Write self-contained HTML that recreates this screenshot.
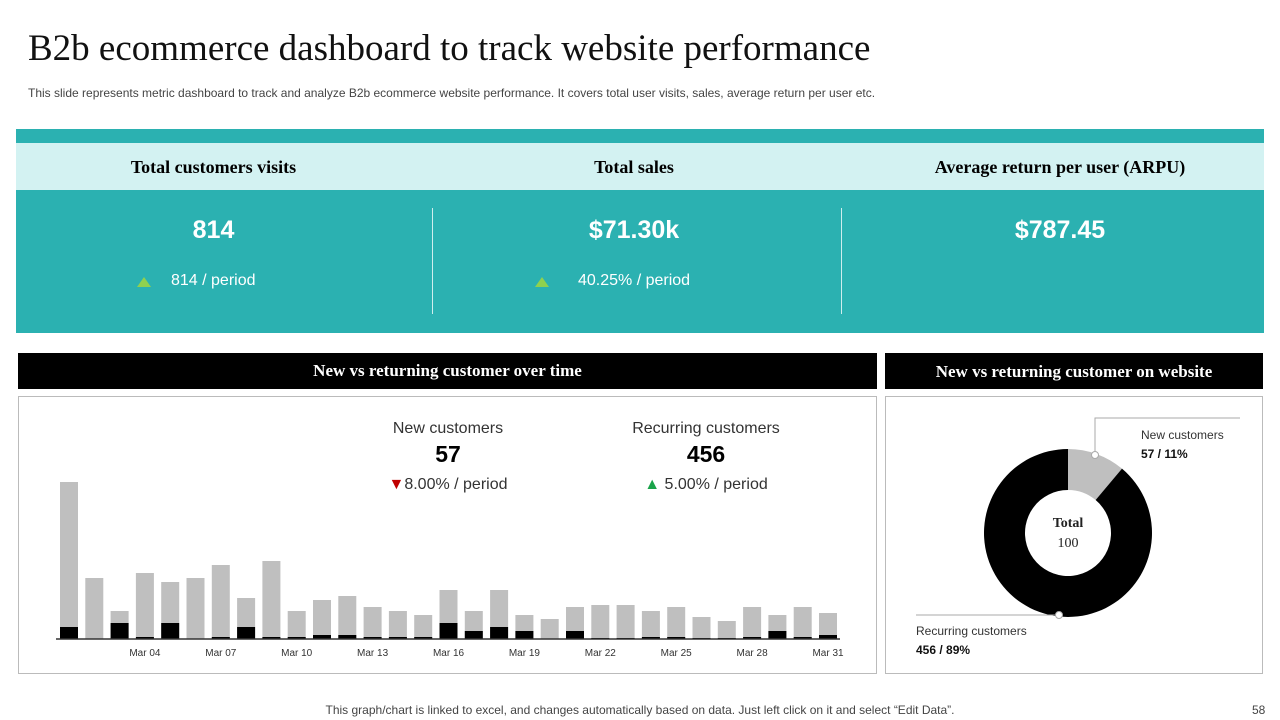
<!DOCTYPE html>
<html><head><meta charset="utf-8">
<style>
body{margin:0;width:1280px;height:720px;background:#fff;font-family:"Liberation Sans",sans-serif;position:relative;overflow:hidden}
.a{position:absolute}
.serif{font-family:"Liberation Serif",serif}
</style></head><body>
<div class="a serif" style="left:28px;top:27px;font-size:37px;color:#111">B2b ecommerce dashboard to track website performance</div>
<div class="a" style="left:28px;top:86px;font-size:12px;color:#444">This slide represents metric dashboard to track and analyze B2b ecommerce website performance. It covers total user visits, sales, average return per user etc.</div>

<div class="a" style="left:16px;top:129px;width:1248px;height:14px;background:#2bb1b1"></div>
<div class="a" style="left:16px;top:143px;width:1248px;height:47px;background:#d3f2f2"></div>
<div class="a" style="left:16px;top:190px;width:1248px;height:143px;background:#2bb1b1"></div>
<div class="a serif" style="left:16px;top:157px;width:395px;text-align:center;font-weight:bold;font-size:18px">Total customers visits</div>
<div class="a serif" style="left:434px;top:157px;width:400px;text-align:center;font-weight:bold;font-size:18px">Total sales</div>
<div class="a serif" style="left:860px;top:157px;width:400px;text-align:center;font-weight:bold;font-size:18px">Average return per user (ARPU)</div>
<div class="a" style="left:432px;top:208px;width:1px;height:106px;background:#d0eeee"></div>
<div class="a" style="left:841px;top:208px;width:1px;height:106px;background:#d0eeee"></div>
<div class="a" style="left:16px;top:216px;width:395px;text-align:center;font-weight:bold;font-size:25px;color:#fff">814</div>
<div class="a" style="left:434px;top:216px;width:400px;text-align:center;font-weight:bold;font-size:25px;color:#fff">$71.30k</div>
<div class="a" style="left:860px;top:216px;width:400px;text-align:center;font-weight:bold;font-size:25px;color:#fff">$787.45</div>
<svg class="a" style="left:136px;top:276px" width="16" height="12"><polygon points="8,1 15,11 1,11" fill="#8fd14f"/></svg>
<div class="a" style="left:171px;top:272px;font-size:16px;color:#fff">814 / period</div>
<svg class="a" style="left:534px;top:276px" width="16" height="12"><polygon points="8,1 15,11 1,11" fill="#8fd14f"/></svg>
<div class="a" style="left:578px;top:272px;font-size:16px;color:#fff">40.25% / period</div>

<div class="a serif" style="left:18px;top:353px;width:859px;height:36px;background:#000;color:#fff;font-weight:bold;font-size:17px;text-align:center;line-height:36px">New vs returning customer over time</div>
<div class="a serif" style="left:885px;top:353px;width:378px;height:36px;background:#000;color:#fff;font-weight:bold;font-size:17px;text-align:center;line-height:38px">New vs returning customer on website</div>
<div class="a" style="left:18px;top:396px;width:859px;height:278px;border:1px solid #bbb;box-sizing:border-box"></div>
<div class="a" style="left:885px;top:396px;width:378px;height:278px;border:1px solid #bbb;box-sizing:border-box"></div>

<div class="a" style="left:348px;top:420px;width:200px;text-align:center;font-size:16px;color:#333">New customers</div>
<div class="a" style="left:348px;top:441px;width:200px;text-align:center;font-size:23px;font-weight:bold">57</div>
<div class="a" style="left:348px;top:476px;width:200px;text-align:center;font-size:16px;color:#333"><span style="color:#c00000">▼</span>8.00% / period</div>
<div class="a" style="left:606px;top:420px;width:200px;text-align:center;font-size:16px;color:#333">Recurring customers</div>
<div class="a" style="left:606px;top:441px;width:200px;text-align:center;font-size:23px;font-weight:bold">456</div>
<div class="a" style="left:606px;top:476px;width:200px;text-align:center;font-size:16px;color:#333"><span style="color:#1aa34a">▲</span> 5.00% / period</div>

<svg class="a" id="bars" style="left:0;top:0" width="1280" height="720"></svg>

<div class="a" style="left:0;top:703px;width:1280px;text-align:center;font-size:12px;color:#444">This graph/chart is linked to excel, and changes automatically based on data. Just left click on it and select “Edit Data”.</div>
<div class="a" style="left:1252px;top:703px;font-size:12px;color:#444">58</div>

<script>
const days = Array.from({length:31},(_,i)=>'Mar '+String(i+1).padStart(2,'0'));
const totalVisits = [157,61,28,66,57,61,74,41,78,28,39,43,32,28,24,49,28,49,24,20,32,34,34,28,32,22,18,32,24,32,26];
const newVisits = [12,0,16,2,16,0,2,12,2,2,4,4,2,2,2,16,8,12,8,0,8,1,1,2,2,1,1,2,8,2,4];
const donutLabels = ['New customers','Recurring customers'];
const donutValues = [57,456];

const NS='http://www.w3.org/2000/svg';
const svg=document.getElementById('bars');
function mk(t,a){const e=document.createElementNS(NS,t);for(const k in a)e.setAttribute(k,a[k]);svg.appendChild(e);return e;}
const x0=69, step=25.3, bw=18, base=639, yMax=160, hPx=160;
const xS=i=>x0+i*step;
const yS=v=>base-v/yMax*hPx;
days.forEach((d,i)=>{
  const r=mk('rect',{x:xS(i)-bw/2,y:yS(totalVisits[i]),width:bw,height:base-yS(totalVisits[i]),fill:'#bfbfbf'});
  
  
  const b=mk('rect',{x:xS(i)-bw/2,y:yS(newVisits[i]),width:bw,height:base-yS(newVisits[i]),fill:'#000'});
  
  
  if(i%3===0 && i>0){
    const t=mk('text',{x:xS(i),y:base+17,'text-anchor':'middle','font-size':10,fill:'#333','font-family':'Liberation Sans'});
    t.textContent=d;
    
    
  }
});
const ax=mk('line',{x1:56,x2:840,y1:base,y2:base,stroke:'#333','stroke-width':1.5});



const cx=1068, cy=533, ro=84, ri=43;
const tot=donutValues.reduce((a,b)=>a+b,0);
const fills=['#bfbfbf','#000'];
let ang=0;
function pt(r,a){return [cx+r*Math.sin(a),cy-r*Math.cos(a)];}
donutValues.forEach((v,i)=>{
  const a1=ang, a2=ang+v/tot*2*Math.PI; ang=a2;
  const lg=(a2-a1)>Math.PI?1:0;
  const [x1,y1]=pt(ro,a1),[x2,y2]=pt(ro,a2),[x3,y3]=pt(ri,a2),[x4,y4]=pt(ri,a1);
  const p=mk('path',{d:`M${x1},${y1}A${ro},${ro} 0 ${lg} 1 ${x2},${y2}L${x3},${y3}A${ri},${ri} 0 ${lg} 0 ${x4},${y4}Z`,fill:fills[i]});
  
  
});
[[1095,418,1240,418,1095,455],[916,615,1060,615,1059,615]].forEach((l,i)=>{
  const pl=mk('polyline',{points:i===0?`${l[2]},${l[1]} ${l[0]},${l[1]} ${l[4]},${l[5]}`:`${l[0]},${l[1]} ${l[2]},${l[3]}`,fill:'none',stroke:'#aaa','stroke-width':1});
  
  
  const c=mk('circle',{cx:l[4],cy:l[5],r:3.5,fill:'#fff',stroke:'#aaa'});
  
  
});
function txt(x,y,s,opt){const t=mk('text',Object.assign({x,y,'font-family':'Liberation Sans','font-size':12,fill:'#333'},opt||{}));t.textContent=s;return t;}
const pct=v=>Math.round(v/tot*100)+'%';
txt(1141,439,donutLabels[0]);
txt(1141,458,donutValues[0]+' / '+pct(donutValues[0]),{'font-weight':'bold',fill:'#111'});
txt(916,635,donutLabels[1]);
txt(916,654,donutValues[1]+' / '+pct(donutValues[1]),{'font-weight':'bold',fill:'#111'});
const t1=txt(cx,527,'Total',{'text-anchor':'middle','font-family':'Liberation Serif','font-weight':'bold','font-size':14,fill:'#222'});

const t2=txt(cx,547,'100',{'text-anchor':'middle','font-family':'Liberation Serif','font-size':14,fill:'#222'});

</script>
</body></html>
